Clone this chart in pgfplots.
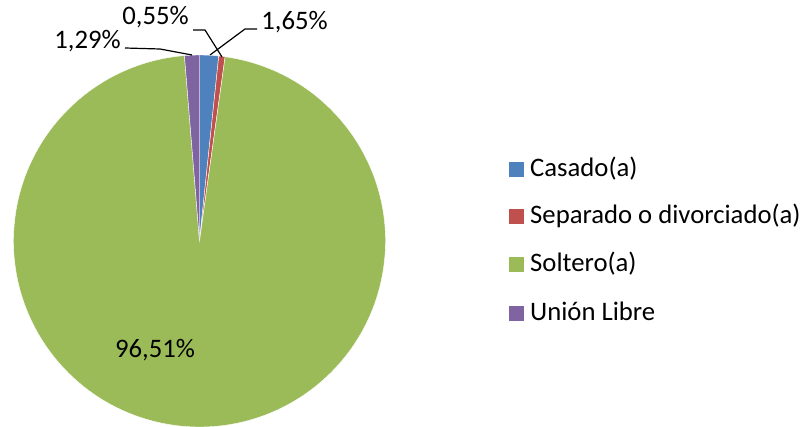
\documentclass[border=0pt]{standalone}
\usepackage{pgfplots}
\pgfplotsset{compat=1.18}
\usepackage{fontspec}
\setmainfont{Carlito}
\definecolor{cas}{HTML}{4F81BD}
\definecolor{sep}{HTML}{C0504D}
\definecolor{sol}{HTML}{9BBB59}
\definecolor{uni}{HTML}{8064A2}
\tikzset{lbl/.style={font=\fontsize{26.7bp}{30bp}\selectfont,inner sep=0pt,text=black}}
% data (percent)
\def\vCas{1.65}
\def\vSep{0.55}
\def\vSol{96.51}
\def\vUni{1.29}
\begin{document}
\begin{tikzpicture}
\pgfmathsetmacro\aA{90}
\pgfmathsetmacro\aB{\aA-3.6*\vCas}
\pgfmathsetmacro\aC{\aB-3.6*\vSep}
\pgfmathsetmacro\aD{\aC-3.6*\vSol}
\pgfmathsetmacro\aE{\aD-3.6*\vUni}
\begin{axis}[width=805bp,height=427bp,scale only axis,
  xmin=0,xmax=805,ymin=0,ymax=427,hide axis,clip=false]
\fill[cas,draw=white,line width=0.4bp] (axis cs:199.5,186) -- ++(\aA:186bp) arc[start angle=\aA,end angle=\aB,radius=186bp] -- cycle;
\fill[sep,draw=white,line width=0.4bp] (axis cs:199.5,186) -- ++(\aB:186bp) arc[start angle=\aB,end angle=\aC,radius=186bp] -- cycle;
\fill[sol,draw=white,line width=0.4bp] (axis cs:199.5,186) -- ++(\aC:186bp) arc[start angle=\aC,end angle=\aD,radius=186bp] -- cycle;
\fill[uni,draw=white,line width=0.4bp] (axis cs:199.5,186) -- ++(\aD:186bp) arc[start angle=\aD,end angle=\aE,radius=186bp] -- cycle;
% leader lines
\draw[black,line width=1.2bp] (axis cs:125,379) -- (axis cs:160,378) -- (axis cs:192,372);
\draw[black,line width=1.2bp] (axis cs:193,397) -- (axis cs:205,397) -- (axis cs:222,370);
\draw[black,line width=1.2bp] (axis cs:257,398) -- (axis cs:245,398) -- (axis cs:210,372);
% labels
\node[lbl,anchor=base] at (axis cs:155,69) {96,51\%};
\node[lbl,anchor=base] at (axis cs:87.5,378) {1,29\%};
\node[lbl,anchor=base] at (axis cs:155.5,402) {0,55\%};
\node[lbl,anchor=base] at (axis cs:294.5,397) {1,65\%};
% legend
\fill[cas] (axis cs:508.5,250) rectangle (axis cs:523.5,265);
\node[lbl,anchor=base west] at (axis cs:530,250) {Casado(a)};
\fill[sep] (axis cs:508.5,203) rectangle (axis cs:523.5,218);
\node[lbl,anchor=base west] at (axis cs:530,203) {Separado o divorciado(a)};
\fill[sol] (axis cs:508.5,155) rectangle (axis cs:523.5,170);
\node[lbl,anchor=base west] at (axis cs:530,155) {Soltero(a)};
\fill[uni] (axis cs:508.5,106) rectangle (axis cs:523.5,121);
\node[lbl,anchor=base west] at (axis cs:530,106) {Unión Libre};
\end{axis}
\pgfresetboundingbox
\useasboundingbox (0,0) rectangle (805bp,427bp);
\end{tikzpicture}
\end{document}
